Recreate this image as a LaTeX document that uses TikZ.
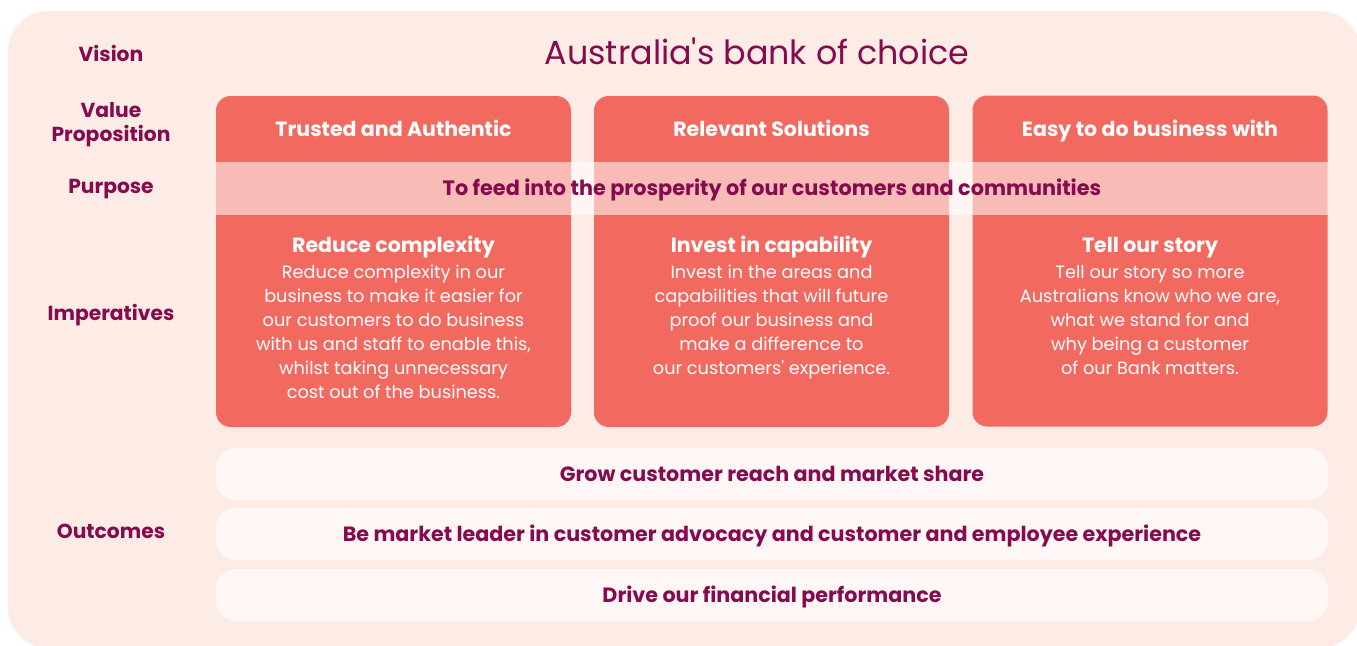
\documentclass[tikz,border=0pt]{standalone}
\usepackage{fontspec}
\setmainfont{Poppins}
\usetikzlibrary{positioning}
\definecolor{panelbg}{HTML}{FDECE6}
\definecolor{cardred}{HTML}{F26A5F}
\definecolor{barfill}{HTML}{FEF7F6}
\definecolor{wine}{HTML}{860A4E}
\tikzset{
  oneline/.style={text height=#1, text depth=0pt},
  rowlabel/.style={text=wine, font=\fontsize{15.2}{18}\selectfont\bfseries, align=center},
  card/.style={fill=cardred, rounded corners=11pt, minimum width=266.25pt, minimum height=248.25pt, inner sep=0pt},
  cardhead/.style={oneline=10.8pt, text=white, font=\fontsize{15.4}{17}\selectfont\bfseries},
  cardbody/.style={text=white, font=\fontsize{13.3}{18}\selectfont, align=center},
  outbar/.style={fill=barfill, rounded corners=15pt, minimum width=834pt, minimum height=39pt, inner sep=0pt,
    oneline=10.85pt, text=wine, font=\fontsize{15.5}{17}\selectfont\bfseries},
}
\begin{document}
\begin{tikzpicture}[x=0.75pt,y=-0.75pt]
\clip (0,0) rectangle (1357,646);
\fill[panelbg, rounded corners=30pt] (8,11) rectangle (1360,648);

% row labels
\node[rowlabel, oneline=10.64pt] (vision) at (111,54) {Vision};
\node[rowlabel] (valprop) at (111,125) {Value\\Proposition};
\node[rowlabel, oneline=10.64pt] (purpose) at (111,186) {Purpose};
\node[rowlabel, oneline=10.64pt] (imper) at (111,313) {Imperatives};
\node[rowlabel, oneline=10.64pt] (outcomes) at (111,531) {Outcomes};

% vision
\node[oneline=17.5pt, text=wine, font=\fontsize{25}{27}\selectfont] (visiontxt) at (757,53) {Australia\textquotesingle s bank of choice};

% the three columns
\node[card] (card1) at (393.5,261.5) {};
\node[card] (card2) at (771.5,261.5) {};
\node[card] (card3) at (1150,261) {};
\node[cardhead] (vp1) at (393.5,129) {Trusted and Authentic};
\node[cardhead] (vp2) at (771.5,129) {Relevant Solutions};
\node[cardhead] (vp3) at (1150,129) {Easy to do business with};

% purpose band over the cards
\node[fill=white, fill opacity=0.55, text opacity=1, minimum width=834pt, minimum height=39.75pt, inner sep=0pt,
  oneline=10.9pt, text=wine, font=\fontsize{15.6}{17}\selectfont\bfseries] (band) at (772,188.5)
  {To feed into the prosperity of our customers and communities};

% imperatives
\node[cardhead] (imp1) at (393.5,245) {Reduce complexity};
\node[cardhead] (imp2) at (771.5,245) {Invest in capability};
\node[cardhead] (imp3) at (1150,245) {Tell our story};
\node[cardbody, below=2.5pt of imp1] (txt1) {Reduce complexity in our\\business to make it easier for\\our customers to do business\\with us and staff to enable this,\\whilst taking unnecessary\\cost out of the business.};
\node[cardbody, below=2.5pt of imp2] (txt2) {Invest in the areas and\\capabilities that will future\\proof our business and\\make a difference to\\our customers\textquotesingle{} experience.};
\node[cardbody, below=2.5pt of imp3] (txt3) {Tell our story so more\\Australians know who we are,\\what we stand for and\\why being a customer\\of our Bank matters.};

% outcomes
\node[outbar] (out1) at (772,474) {Grow customer reach and market share};
\node[outbar] (out2) at (772,534) {Be market leader in customer advocacy and customer and employee experience};
\node[outbar] (out3) at (772,595) {Drive our financial performance};
\end{tikzpicture}
\end{document}
